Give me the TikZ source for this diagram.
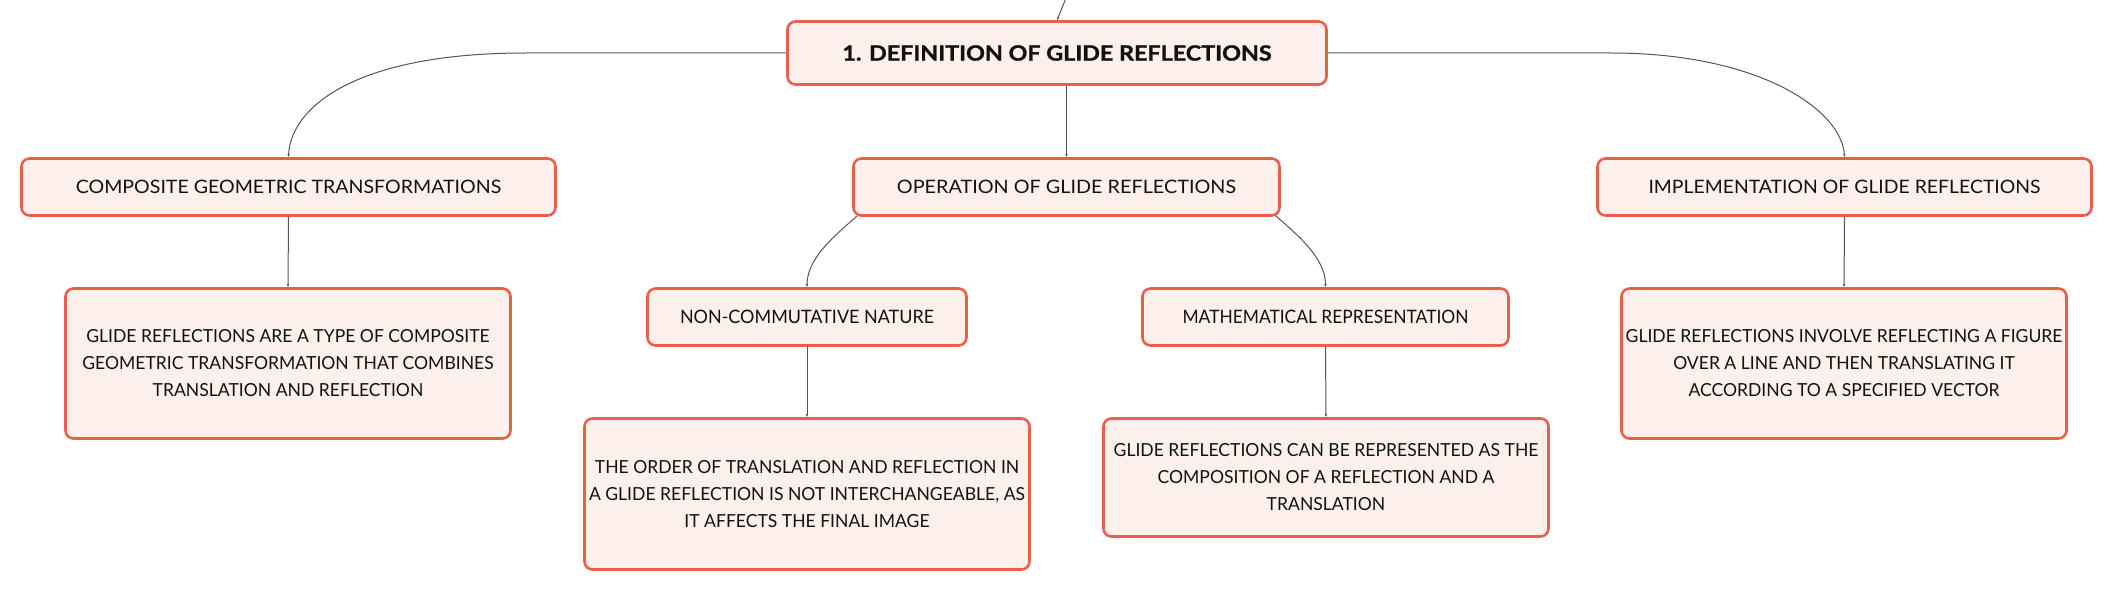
\documentclass[tikz,border=0pt]{standalone}
\usepackage{fontspec}
\setmainfont{Lato}
\usetikzlibrary{arrows.meta}
\definecolor{boxborder}{HTML}{E8604C}
\definecolor{boxfill}{HTML}{FDF0EB}
\definecolor{linkcol}{HTML}{555555}
\definecolor{textcol}{HTML}{111111}
\tikzset{
  mbox/.style={draw=boxborder, fill=boxfill, line width=2.6pt, rounded corners=8pt,
    align=center, inner sep=0pt, text=textcol},
  rootbox/.style={mbox, font=\fontsize{21}{25}\selectfont\bfseries\addfontfeatures{FakeStretch=1.11,FakeBold=1.3}},
  titlebox/.style={mbox, font=\fontsize{18.5}{22}\selectfont\addfontfeatures{FakeStretch=#1}},
  detailbox/.style={mbox, font=\fontsize{18}{27}\selectfont\addfontfeatures{FakeStretch=0.975}},
  link/.style={draw=linkcol, line width=1pt, -{Latex[length=3pt,width=2.5pt]}}
}
\begin{document}
\begin{tikzpicture}[x=1pt,y=-1pt]
\useasboundingbox (0,0) rectangle (2114,591);
% nodes
\node[rootbox, minimum width=539pt, minimum height=63pt] (root) at (1057,53) {1. DEFINITION OF GLIDE REFLECTIONS};
\node[titlebox=1.057, minimum width=534pt, minimum height=57pt] (comp) at (288.5,187) {COMPOSITE GEOMETRIC TRANSFORMATIONS};
\node[titlebox=1.07, minimum width=426pt, minimum height=57pt] (oper) at (1066.5,187) {OPERATION OF GLIDE REFLECTIONS};
\node[titlebox=1.048, minimum width=494pt, minimum height=57pt] (impl) at (1844.5,187) {IMPLEMENTATION OF GLIDE REFLECTIONS};
\node[titlebox=0.97, minimum width=319pt, minimum height=57pt] (noncomm) at (807,317) {NON-COMMUTATIVE NATURE};
\node[titlebox=0.94, minimum width=366pt, minimum height=57pt] (math) at (1325.5,317) {MATHEMATICAL REPRESENTATION};
\node[detailbox, minimum width=445pt, minimum height=150pt] (compD) at (288,363.5) {GLIDE REFLECTIONS ARE A TYPE OF COMPOSITE\\GEOMETRIC TRANSFORMATION THAT COMBINES\\TRANSLATION AND REFLECTION};
\node[detailbox, minimum width=445pt, minimum height=150pt] (implD) at (1844,363.5) {GLIDE REFLECTIONS INVOLVE REFLECTING A FIGURE\\OVER A LINE AND THEN TRANSLATING IT\\ACCORDING TO A SPECIFIED VECTOR};
\node[detailbox, minimum width=445pt, minimum height=151pt] (noncommD) at (807,494) {THE ORDER OF TRANSLATION AND REFLECTION IN\\A GLIDE REFLECTION IS NOT INTERCHANGEABLE, AS\\IT AFFECTS THE FINAL IMAGE};
\node[detailbox, minimum width=445pt, minimum height=118pt] (mathD) at (1326,477.5) {GLIDE REFLECTIONS CAN BE REPRESENTED AS THE\\COMPOSITION OF A REFLECTION AND A\\TRANSLATION};
% free ends / bends
\coordinate (topin) at (1066,-2);
\coordinate (lbend) at (526,53);
\coordinate (rbend) at (1611,53);
% connectors
\draw[link] (topin) -- (root.north);
\draw[link] (root.west) -- (lbend) .. controls +(-176,0) and +(2,-47) .. (comp.north);
\draw[link] (root.east) -- (rbend) .. controls +(149,0) and +(-3,-47) .. (impl.north);
\draw[link] (root.south -| oper.north) -- (oper.north);
\draw[link] ([xshift=5pt,yshift=1pt]oper.south west) .. controls +(-20,18) and +(0,-30) .. (noncomm.north);
\draw[link] ([xshift=-5pt,yshift=1pt]oper.south east) .. controls +(20,18) and +(0,-30) .. (math.north);
\draw[link] (comp.south) -- (compD.north);
\draw[link] (impl.south) -- (implD.north);
\draw[link] (noncomm.south) -- (noncommD.north);
\draw[link] (math.south) -- (mathD.north);
\end{tikzpicture}
\end{document}
